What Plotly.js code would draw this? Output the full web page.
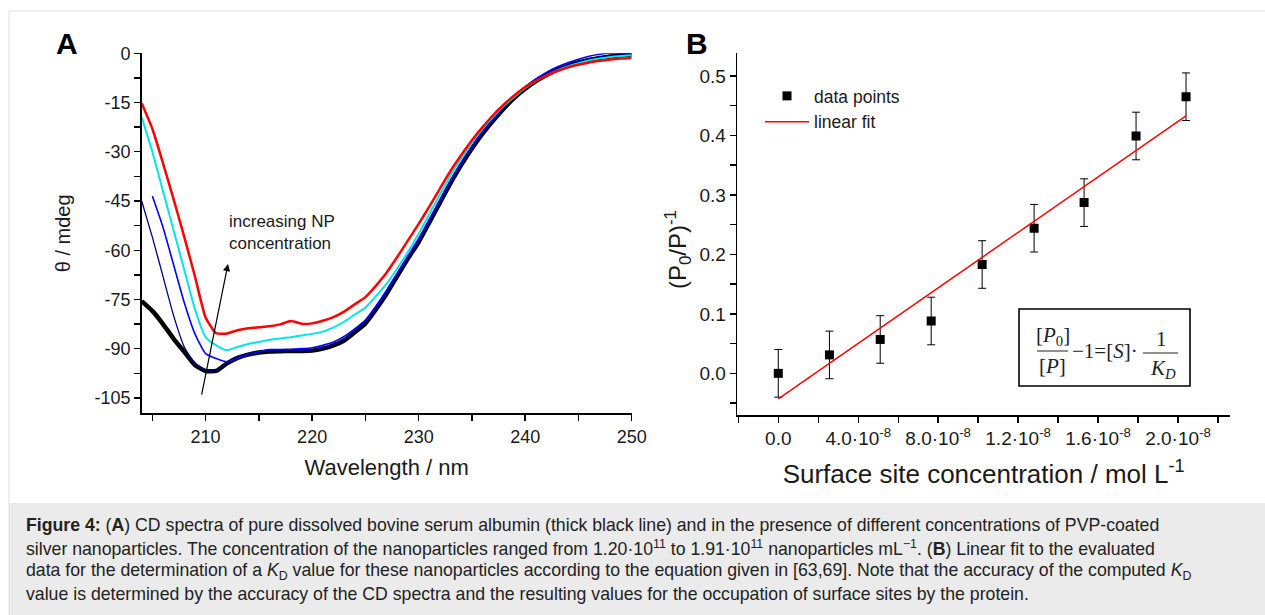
<!DOCTYPE html>
<html>
<head>
<meta charset="utf-8">
<script src="https://cdn.plot.ly/plotly-3.0.1.min.js"></script>
<style>html,body{margin:0;padding:0;background:#fff;}#chart{width:1265px;height:615px;}</style>
</head>
<body>
<div id="chart"></div>
<script>
// ---------- Panel A data (CD spectra) ----------
const wavelength = [204,205,206,207,208,209,210,211,212,213,214,215,216,217,218,219,220,221,222,223,224,225,226,227,228,229,230,231,232,233,234,235,236,237,238,239,240,241,242,243,244,245,246,247,248,249,250];
const bsaPure = [-75.5,-78.5,-82.5,-87,-91,-95,-96.8,-96.8,-94.5,-92.8,-91.8,-91.2,-90.9,-90.8,-90.7,-90.7,-90.6,-90.0,-89.0,-87.5,-85,-82.3,-78,-73.2,-67.8,-62.5,-57.5,-51.5,-45.5,-39.5,-34,-29,-24.5,-20.5,-16.8,-13.5,-10.8,-8.5,-6.6,-5.0,-3.8,-2.8,-2.0,-1.4,-1.0,-0.6,-0.4];
const npConc1 = [-45,-56,-68,-80,-89.5,-94.5,-96.5,-96.5,-94.3,-92.6,-91.6,-91,-90.7,-90.6,-90.5,-90.5,-90.4,-89.8,-88.8,-87.2,-84.7,-82,-77.7,-72.9,-67.5,-62.2,-57.2,-51.2,-45.2,-39.2,-33.7,-28.7,-24.2,-20.2,-16.5,-13.2,-10.5,-8.2,-6.3,-4.7,-3.5,-2.5,-1.7,-1.1,-0.7,-0.4,-0.2];
const npConc2 = [null,-43.5,-53,-64.5,-76,-85.5,-91.5,-93,-94,-93,-91.8,-91,-90.3,-90.3,-90.2,-90.0,-89.7,-89.0,-88.0,-86.3,-84,-81.3,-77,-72.2,-67,-61.8,-56.5,-50.8,-44.8,-39,-33.5,-28.5,-24,-20,-16.3,-13,-10.2,-7.8,-5.8,-4.2,-2.9,-1.8,-0.9,-0.3,0,0,-0.2];
const npConc3 = [-19.5,-30,-42,-54,-66,-78,-86.5,-89,-90.5,-89.5,-88.6,-88,-87.3,-86.9,-86.5,-86,-85.5,-84.8,-83.5,-81.8,-79.6,-77.5,-74,-70.2,-65.5,-60.5,-55,-49,-43,-37.2,-32,-27.2,-23,-19.3,-16,-13.2,-10.6,-8.5,-6.7,-5.2,-4.0,-3.0,-2.2,-1.6,-1.1,-0.8,-0.6];
const npConc4 = [-15.2,-23,-33.5,-44.5,-56,-68,-80.5,-85.3,-85.4,-84.4,-83.8,-83.5,-83.2,-82.6,-81.6,-82.4,-82.3,-81.5,-80.4,-78.7,-76.5,-74.3,-70.8,-66.8,-62,-57,-52,-46.7,-41.2,-35.8,-31,-26.5,-22.5,-18.8,-15.6,-12.8,-10.3,-8.4,-6.8,-5.4,-4.3,-3.5,-2.8,-2.3,-1.9,-1.6,-1.4];
const xTicksA = [210,220,230,240,250];
const yTicksA = [0,-15,-30,-45,-60,-75,-90,-105];
const yTickTextA = ['0','-15','-30','-45','-60','-75','-90','-105'];

// ---------- Panel B data ----------
const siteConc = [0, 2.56e-8, 5.1e-8, 7.65e-8, 1.02e-7, 1.28e-7, 1.53e-7, 1.79e-7, 2.04e-7];
const invRatio = [0.0, 0.031, 0.057, 0.088, 0.183, 0.244, 0.287, 0.399, 0.465];
const invRatioErr = [0.04, 0.04, 0.04, 0.04, 0.04, 0.04, 0.04, 0.04, 0.04];
const fitX = [0, 2.04e-7];
const fitY = [-0.043, 0.433];
const xTickValsB = [0, 4e-8, 8e-8, 1.2e-7, 1.6e-7, 2.0e-7];
const xTickTextB = ['0.0', '4.0·10<sup>-8</sup>', '8.0·10<sup>-8</sup>', '1.2·10<sup>-8</sup>', '1.6·10<sup>-8</sup>', '2.0·10<sup>-8</sup>'];

// ---------- helpers (pixel -> paper) ----------
const W = 1265, H = 615;
const px = v => v / W;
const py = v => 1 - v / H;

const FONT = 'Liberation Sans, Arial, sans-serif';
const SERIF = 'Liberation Serif, Times New Roman, serif';

const rangeXA = [204, 250], rangeYA = [-109.7, 0.0001];
const rangeXB = [-2.05e-8, 2.26e-7], rangeYB = [-0.07, 0.538];
const domXA = [px(141.7), px(631.7)], domYA = [py(413.3), py(53.3)];
const domXB = [px(737.3), px(1230)], domYB = [py(415), py(53.3)];

function baseAxis(extra) {
  return Object.assign({
    showgrid: false, zeroline: false, showline: true, linecolor: '#000', linewidth: 1.6,
    ticks: 'outside', ticklen: 6, tickwidth: 1.4, tickcolor: '#000',
    tickfont: {family: FONT, size: 18, color: '#1a1a1a'}, autorange: false
  }, extra);
}
function mirrorAxis(extra) {
  return Object.assign({
    showgrid: false, zeroline: false, showline: true, linecolor: '#000', linewidth: 1.6,
    ticks: 'inside', ticklen: 6, tickwidth: 1.4, tickcolor: '#000', showticklabels: false, autorange: false
  }, extra);
}

const traces = [
  {x: wavelength, y: bsaPure, mode: 'lines', line: {color: '#000000', width: 4.5, shape: 'spline', smoothing: 0.5}, xaxis: 'x', yaxis: 'y', showlegend: false, name: 'BSA'},
  {x: wavelength, y: npConc1, mode: 'lines', line: {color: '#000080', width: 1.3, shape: 'spline', smoothing: 0.5}, xaxis: 'x', yaxis: 'y', showlegend: false, name: 'c1'},
  {x: wavelength, y: npConc2, mode: 'lines', line: {color: '#0000ff', width: 1.6, shape: 'spline', smoothing: 0.5}, xaxis: 'x', yaxis: 'y', showlegend: false, name: 'c2', connectgaps: false},
  {x: wavelength, y: npConc3, mode: 'lines', line: {color: '#00e5e5', width: 2, shape: 'spline', smoothing: 0.5}, xaxis: 'x', yaxis: 'y', showlegend: false, name: 'c3'},
  {x: wavelength, y: npConc4, mode: 'lines', line: {color: '#ff0000', width: 2.5, shape: 'spline', smoothing: 0.5}, xaxis: 'x', yaxis: 'y', showlegend: false, name: 'c4'},
  {x: siteConc, y: invRatio, mode: 'markers', name: 'data points', xaxis: 'x2', yaxis: 'y2',
   marker: {symbol: 'square', size: 9, color: '#000'},
   error_y: {type: 'data', array: invRatioErr, visible: true, color: '#000', thickness: 1, width: 4}},
  {x: fitX, y: fitY, mode: 'lines', name: 'linear fit', xaxis: 'x2', yaxis: 'y2', line: {color: '#ff0000', width: 1.5}}
];

const ann = [];
function pAnn(text, x, y, font, extra) {
  ann.push(Object.assign({text: text, x: px(x), y: py(y), xref: 'paper', yref: 'paper', xanchor: 'center', yanchor: 'middle', showarrow: false, font: font}, extra || {}));
}
// panel letters
pAnn('<b>A</b>', 66.7, 44, {family: FONT, size: 30, color: '#000'});
pAnn('<b>B</b>', 697, 44, {family: FONT, size: 30, color: '#000'});
// panel B y title (placed to match the reference position)
pAnn('(P<sub>0</sub>/P)<sup>-1</sup>', 678, 250, {family: FONT, size: 24, color: '#1a1a1a'}, {textangle: -90});
// arrow in panel A
ann.push({x: 212.1, y: -64.2, ax: 209.6, ay: -104.5, xref: 'x', yref: 'y', axref: 'x', ayref: 'y', text: '', showarrow: true, arrowhead: 2, arrowsize: 1.2, arrowwidth: 1.2, arrowcolor: '#000'});
ann.push({text: 'increasing NP<br>concentration', x: 211.97, y: -54.5, xref: 'x', yref: 'y', xanchor: 'left', yanchor: 'middle', align: 'left', showarrow: false, font: {family: FONT, size: 17, color: '#1a1a1a'}});
// equation pieces
const eqFont = {family: SERIF, size: 21, color: '#222'};
pAnn('[<i>P</i><sub>0</sub>]', 1053, 336, eqFont);
pAnn('[<i>P</i>]', 1052, 366, eqFont);
pAnn('−1=[<i>S</i>]·', 1105, 351, eqFont);
pAnn('1', 1161, 339, eqFont);
pAnn('<i>K</i><sub><i>D</i></sub>', 1163, 369, eqFont);
// caption
const capFont = {family: FONT, size: 17.7, color: '#222'};
const capLines = [
  '<b>Figure 4:</b> (<b>A</b>) CD spectra of pure dissolved bovine serum albumin (thick black line) and in the presence of different concentrations of PVP-coated',
  'silver nanoparticles. The concentration of the nanoparticles ranged from 1.20·10<sup>11</sup> to 1.91·10<sup>11</sup> nanoparticles mL<sup>−1</sup>. (<b>B</b>) Linear fit to the evaluated',
  'data for the determination of a <i>K</i><sub>D</sub> value for these nanoparticles according to the equation given in [63,69]. Note that the accuracy of the computed <i>K</i><sub>D</sub>',
  'value is determined by the accuracy of the CD spectra and the resulting values for the occupation of surface sites by the protein.'
];
const capY = [525, 548, 571, 594];
capLines.forEach((t, i) => pAnn(t, 24, capY[i], capFont, {xanchor: 'left', align: 'left'}));

const shapes = [
  // caption background
  {type: 'rect', xref: 'paper', yref: 'paper', x0: px(9), x1: 1.01, y0: py(616), y1: py(503), fillcolor: '#ebebeb', line: {width: 0}, layer: 'below'},
  // outer light border
  {type: 'line', xref: 'paper', yref: 'paper', x0: px(9), x1: 1.01, y0: py(11), y1: py(11), line: {color: '#dedede', width: 1}},
  {type: 'line', xref: 'paper', yref: 'paper', x0: px(9), x1: px(9), y0: py(11), y1: py(616), line: {color: '#dedede', width: 1}},
  // equation box
  {type: 'rect', xref: 'paper', yref: 'paper', x0: px(1019), x1: px(1190), y0: py(386), y1: py(309), line: {color: '#000', width: 1.6}, fillcolor: 'rgba(0,0,0,0)'},
  // fraction bars
  {type: 'line', xref: 'paper', yref: 'paper', x0: px(1037), x1: px(1068), y0: py(351), y1: py(351), line: {color: '#222', width: 1}},
  {type: 'line', xref: 'paper', yref: 'paper', x0: px(1143), x1: px(1178), y0: py(353), y1: py(353), line: {color: '#222', width: 1}}
];

const layout = {
  width: W, height: H, margin: {l: 0, r: 0, t: 0, b: 0},
  paper_bgcolor: '#fff', plot_bgcolor: 'rgba(0,0,0,0)',
  font: {family: FONT, color: '#1a1a1a'},
  xaxis: baseAxis({domain: domXA, range: rangeXA, anchor: 'y', tickvals: xTicksA, minor: {dtick: 5, tick0: 200, ticks: 'outside', ticklen: 6, tickwidth: 1.4, tickcolor: '#000'},
    title: {text: 'Wavelength / nm', font: {family: FONT, size: 22, color: '#1a1a1a'}, standoff: 14}}),
  yaxis: baseAxis({domain: domYA, range: rangeYA, anchor: 'x', tickvals: yTicksA, ticktext: yTickTextA, minor: {dtick: 7.5, tick0: 0, ticks: 'outside', ticklen: 6, tickwidth: 1.4, tickcolor: '#000'},
    title: {text: 'θ / mdeg', font: {family: FONT, size: 20, color: '#1a1a1a'}, standoff: 18}}),
  xaxis3: mirrorAxis({overlaying: 'x', side: 'top', anchor: 'y', range: rangeXA, tickvals: xTicksA, minor: {dtick: 5, tick0: 200, ticks: 'inside', ticklen: 6, tickwidth: 1.4, tickcolor: '#000'}}),
  yaxis3: mirrorAxis({overlaying: 'y', side: 'right', anchor: 'x', range: rangeYA, tickvals: yTicksA, minor: {dtick: 7.5, tick0: 0, ticks: 'inside', ticklen: 6, tickwidth: 1.4, tickcolor: '#000'}}),
  xaxis2: baseAxis({domain: domXB, range: rangeXB, anchor: 'y2', tickvals: xTickValsB, ticktext: xTickTextB, tickfont: {family: FONT, size: 19, color: '#1a1a1a'},
    minor: {dtick: 2e-8, tick0: 0, ticks: 'outside', ticklen: 6, tickwidth: 1.4, tickcolor: '#000'},
    title: {text: 'Surface site concentration / mol L<sup>-1</sup>', font: {family: FONT, size: 26, color: '#1a1a1a'}, standoff: 16}}),
  yaxis2: baseAxis({domain: domYB, range: rangeYB, anchor: 'x2', dtick: 0.1, tick0: 0, tickformat: '.1f', tickfont: {family: FONT, size: 19, color: '#1a1a1a'},
    minor: {dtick: 0.05, tick0: 0, ticks: 'outside', ticklen: 6, tickwidth: 1.4, tickcolor: '#000'}}),
  xaxis4: mirrorAxis({overlaying: 'x2', side: 'top', anchor: 'y2', range: rangeXB, tickvals: xTickValsB, minor: {dtick: 2e-8, tick0: 0, ticks: 'inside', ticklen: 6, tickwidth: 1.4, tickcolor: '#000'}}),
  yaxis4: mirrorAxis({overlaying: 'y2', side: 'right', anchor: 'x2', range: rangeYB, dtick: 0.1, tick0: 0, minor: {dtick: 0.05, tick0: 0, ticks: 'inside', ticklen: 6, tickwidth: 1.4, tickcolor: '#000'}}),
  showlegend: true,
  legend: {x: px(760), y: py(78), xanchor: 'left', yanchor: 'top', bgcolor: 'rgba(0,0,0,0)', borderwidth: 0,
    font: {family: FONT, size: 17.5, color: '#1a1a1a'}, tracegroupgap: 0, itemwidth: 44},
  annotations: ann,
  shapes: shapes
};

Plotly.newPlot('chart', traces, layout, {displayModeBar: false, staticPlot: true});
</script>
</body>
</html>
